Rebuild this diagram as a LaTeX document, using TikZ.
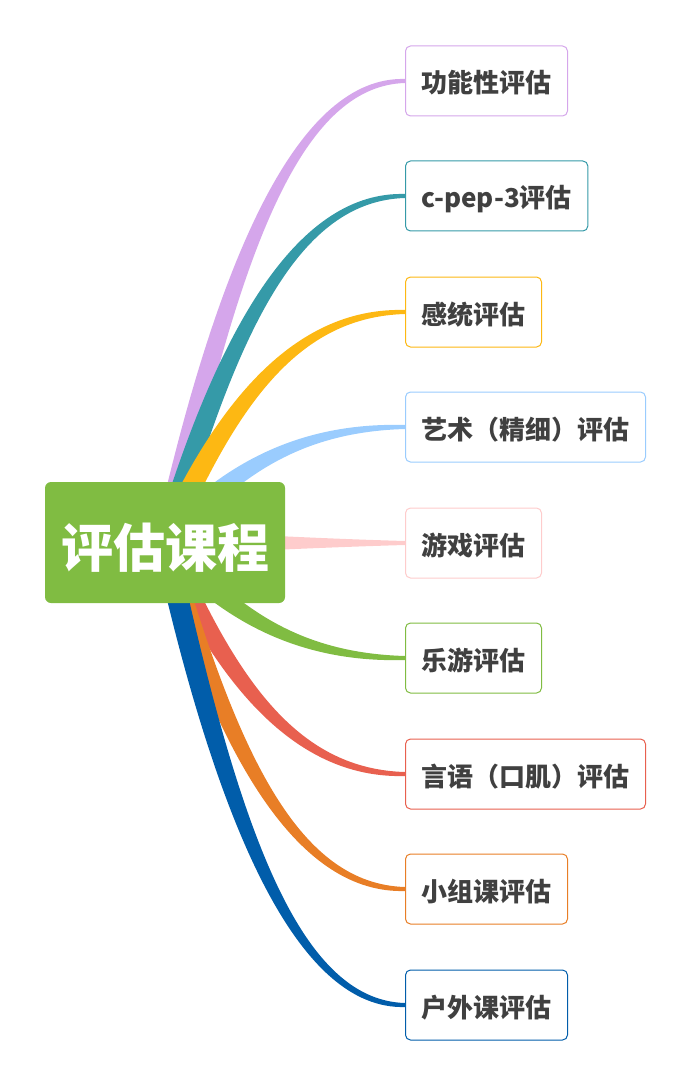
\documentclass[tikz,border=0pt]{standalone}
\usepackage{fontspec}
\newfontfamily\cjk{Noto Sans CJK SC}
\usetikzlibrary{calc, positioning}
\definecolor{rootgreen}{HTML}{80BC42}
\definecolor{lavender}{HTML}{D5A6EB}
\definecolor{tealblue}{HTML}{359AA8}
\definecolor{goldyellow}{HTML}{FDB813}
\definecolor{skyblue}{HTML}{9ACCFE}
\definecolor{palepink}{HTML}{FECCCC}
\definecolor{tomato}{HTML}{E8604F}
\definecolor{carrot}{HTML}{E87E26}
\definecolor{deepblue}{HTML}{015DAA}
\definecolor{txtgray}{HTML}{404040}
\pgfdeclarelayer{background}
\pgfsetlayers{background,main}

\begin{document}
\begin{tikzpicture}[x=1pt, y=-1pt]
        \tikzstyle{box} = [rectangle, line width=1pt, rounded corners=5pt, fill=white, minimum height=70pt, inner xsep=16pt, text height=26pt, text depth=2pt, anchor=west, text=txtgray, font=\cjk\bfseries\fontsize{26}{26}\selectfont]
        \tikzstyle{topic} = [rectangle, fill=rootgreen, rounded corners=6pt, minimum width=240pt, minimum height=121pt, text height=53pt, text depth=4pt, text=white, font=\cjk\bfseries\fontsize{52}{52}\selectfont]

        \useasboundingbox (0,0) rectangle (694,1091);

        \node[topic] (root) at (165,542.5){评估课程};

        \foreach \n/\y/\c/\t in {f1/81/lavender/功能性评估, f2/196/tealblue/c-pep-3评估, f3/312/goldyellow/感统评估, f4/427/skyblue/艺术（精细）评估, f5/543/palepink/游戏评估, f6/658/rootgreen/乐游评估, f7/774/tomato/言语（口肌）评估, f8/889/carrot/小组课评估, f9/1005/deepblue/户外课评估}
            \node[box, draw=\c] (\n) at (405,\y){\t};

        % tapered branches from the root to every box
        \begin{pgfonlayer}{background}
        \foreach \n/\c in {f1/lavender, f2/tealblue, f3/goldyellow, f4/skyblue, f5/palepink, f6/rootgreen, f7/tomato, f8/carrot, f9/deepblue}{
            \coordinate (e) at (\n.west);
            \coordinate (c1) at ($(root.center)!0.63!(root.center |- e) + (64,0)$);
            \coordinate (c2) at ($(e) + (-105,0)$);
            \coordinate (a1) at ($(root.center)!11pt!90:(c1)$);
            \coordinate (b1) at ($(root.center)!11pt!-90:(c1)$);
            \fill[\c] (a1) .. controls ($(c1) + 0.9*(a1) - 0.9*(root.center)$) and ($(c2)!5pt!90:(e)$) .. ($(e)!2pt!-90:(c2)$)
                -- ($(e)!2pt!90:(c2)$) .. controls ($(c2)!5pt!-90:(e)$) and ($(c1) + 0.9*(b1) - 0.9*(root.center)$) .. (b1) -- cycle;
        }
        \end{pgfonlayer}

    \end{tikzpicture}
\end{document}
